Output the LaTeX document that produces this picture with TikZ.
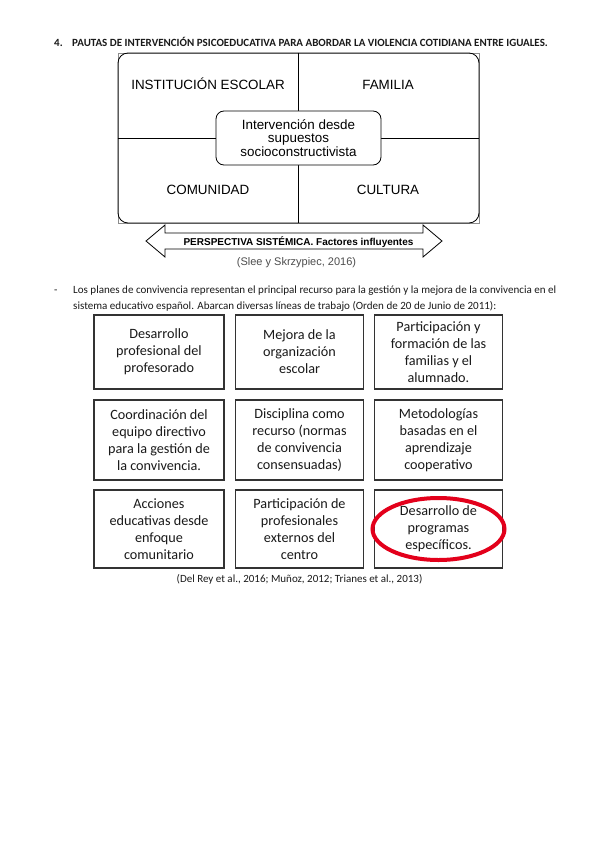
\documentclass[tikz,border=0pt]{standalone}
\usepackage{fontspec}
\setmainfont{Carlito}
\newfontfamily\arialfont{Liberation Sans}
\usetikzlibrary{positioning}
\definecolor{rdInk}{HTML}{1A1A1A}
\definecolor{rdFrame}{HTML}{8C8C8C}
\definecolor{rdBox}{HTML}{333333}
\definecolor{rdRed}{HTML}{E3001B}
\definecolor{rdGrey}{HTML}{4D4D4D}
\tikzset{
  heading/.style={anchor=base west,inner sep=0pt,text=rdInk,
    font=\bfseries\fontsize{11}{13}\selectfont},
  body/.style={anchor=base west,inner sep=0pt,text=rdInk,
    font=\fontsize{11.05}{16}\selectfont},
  factor/.style={anchor=base,inner sep=0pt,text=black,
    font=\arialfont\fontsize{13.4}{16}\selectfont},
  system/.style={draw=black,line width=.8pt,rounded corners=10pt,
    minimum width=361pt,minimum height=170pt,inner sep=0pt},
  core/.style={system,fill=white,rounded corners=8pt,align=center,
    minimum width=165pt,minimum height=54pt,
    font=\arialfont\fontsize{13.4}{13.6}\selectfont},
  persparrow/.style={draw=black,line width=.8pt,fill=white,line join=miter},
  linebox/.style={draw=rdBox,line width=1.2pt,align=center,text=rdInk,
    minimum width=128pt,inner sep=2pt,font=\fontsize{14.2}{17}\selectfont},
  source/.style={anchor=base,inner sep=0pt},
  highlight/.style={draw=rdRed,line width=4pt},
}
\begin{document}
\begin{tikzpicture}[x=1pt,y=-1pt]
  \fill[white] (0,0) rectangle (599,848);
  \useasboundingbox (0,0) rectangle (599,848);
  \node[heading] (num) at (54,47) {4.};
  \node[heading] (title) at (72,47)
    {PAUTAS DE INTERVENCIÓN PSICOEDUCATIVA PARA ABORDAR LA VIOLENCIA COTIDIANA ENTRE IGUALES.};
  \draw[rdFrame,line width=.4pt] (118,53) rectangle (479,223);
  \node[system] (sistema) at (298.5,138) {};
  \draw[line width=.8pt] (sistema.north) -- (sistema.south);
  \draw[line width=.8pt] (sistema.west) -- (sistema.east);
  \node[factor] (escuela) at (208,90) {INSTITUCIÓN ESCOLAR};
  \node[factor] (familia) at (388,90) {FAMILIA};
  \node[factor] (comunidad) at (208,194.5) {COMUNIDAD};
  \node[factor] (cultura) at (388,194.5) {CULTURA};
  \node[core] (interv) at (298.5,138)
    {Intervención desde\\supuestos\\socioconstructivista};
  \draw[persparrow] (146,241) -- (165,225) -- (165,233) -- (423,233) -- (423,225) -- (442,241)
    -- (423,257) -- (423,249) -- (165,249) -- (165,257) -- cycle;
  \node[source,font=\arialfont\bfseries\fontsize{10}{12}\selectfont] (persp) at (298.5,245)
    {PERSPECTIVA SISTÉMICA. Factores influyentes};
  \node[source,text=rdGrey,font=\arialfont\fontsize{11}{13}\selectfont] (slee) at (296.5,265)
    {(Slee y Skrzypiec, 2016)};
  \node[body] (dash) at (54,293) {-};
  \node[body] (linea1) at (73,293)
    {Los planes de convivencia representan el principal recurso para la gestión y la mejora de la convivencia en el};
  \node[body] (linea2) at (73,309)
    {sistema educativo español. Abarcan diversas líneas de trabajo (Orden de 20 de Junio de 2011):};
  \node[linebox,minimum width=130pt,minimum height=74pt] (profes) at (159,352)
    {Desarrollo\\profesional del\\profesorado};
  \node[linebox,minimum height=74pt] (organiz) at (299.5,352)
    {Mejora de la\\organización\\escolar};
  \node[linebox,minimum height=74pt] (familias) at (438.5,352)
    {Participación y\\formación de las\\familias y el\\alumnado.};
  \node[linebox,minimum width=130pt,minimum height=80pt] (directivo) at (159,440)
    {Coordinación del\\equipo directivo\\para la gestión de\\la convivencia.};
  \node[linebox,minimum height=80pt] (disciplina) at (299.5,440)
    {Disciplina como\\recurso (normas\\de convivencia\\consensuadas)};
  \node[linebox,minimum height=80pt] (metodos) at (438.5,440)
    {Metodologías\\basadas en el\\aprendizaje\\cooperativo};
  \node[linebox,minimum width=130pt,minimum height=78pt] (acciones) at (159,529)
    {Acciones\\educativas desde\\enfoque\\comunitario};
  \node[linebox,minimum height=78pt] (externos) at (299.5,529)
    {Participación de\\profesionales\\externos del\\centro};
  \node[linebox,minimum height=78pt] (programas) at (438.5,529)
    {Desarrollo de\\programas\\específicos.};
  \draw[highlight] (programas.center) ellipse [x radius=66pt,y radius=31pt];
  \node[source,text=rdInk,font=\fontsize{11}{13}\selectfont] (refs) at (299.5,582)
    {(Del Rey et al., 2016; Muñoz, 2012; Trianes et al., 2013)};
\end{tikzpicture}
\end{document}
